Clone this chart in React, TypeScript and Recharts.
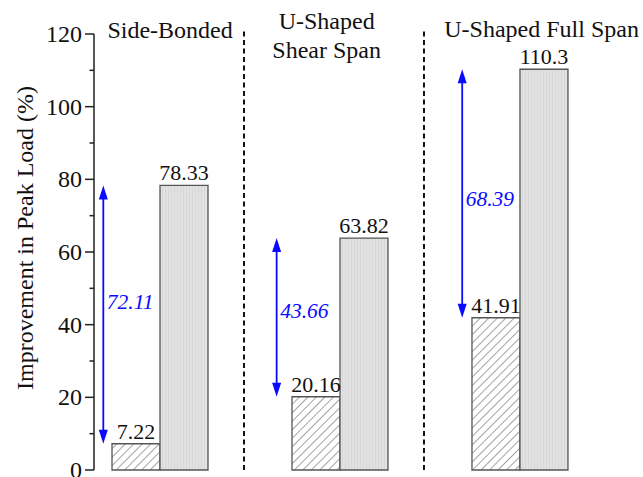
import React from 'react';
import { ComposedChart, Bar, XAxis, YAxis, ReferenceLine, ReferenceDot, LabelList } from 'recharts';

// ---- data ----
const groupLabelLines: string[][] = [['Side-Bonded'], ['U-Shaped', 'Shear Span'], ['U-Shaped Full Span']];
const groupPos = [1, 2, 3];
const unstrengthened = [7.22, 20.16, 41.91];
const strengthened = [78.33, 63.82, 110.3];
const gainLabels = ['72.11', '43.66', '68.39'];
const yTicks = [0, 10, 20, 30, 40, 50, 60, 70, 80, 90, 100, 110, 120];

// ---- layout ----
const W = 643;
const H = 477;
const SERIF = "'Liberation Serif', 'Times New Roman', Times, serif";
const X_DOMAIN: [number, number] = [0.6333, 3.628];
const dividerPos = [1.4667, 2.4667];
const dividerTop = 121.6;
const arrowPos = [0.685, 1.648, 2.679];
const gainNudge = [-13, -7, 5];
const titlePos = [1.056, 1.926, 3.12];
const titleDy = [[4.3], [-4.7, 24.3], [2.7]];
const BLUE = '#0a0aff';
const AXIS = '#222';

const rows = groupPos.map((p, i) => ({ pos: p, plain: unstrengthened[i], frp: strengthened[i] }));

const YTick = (props: any) => {
  const { x, y, payload } = props;
  const major = payload.value % 20 === 0;
  return (
    <g>
      <line x1={x - (major ? 9 : 4.5)} x2={x} y1={y} y2={y} stroke={AXIS} strokeWidth={1.5} />
      {major && (
        <text x={x - 12} y={y} dy="0.33em" textAnchor="end" fontSize={24} fontFamily={SERIF} fill="#111">
          {payload.value}
        </text>
      )}
    </g>
  );
};

const makeArrow = (label: string, nudge: number) => (props: any) => {
  const { x1, y1, y2 } = props;
  const top = Math.min(y1, y2);
  const bot = Math.max(y1, y2);
  const x = x1;
  const head = 14;
  const half = 4.5;
  return (
    <g>
      <line x1={x} y1={top + head - 2} x2={x} y2={bot - head + 2} stroke={BLUE} strokeWidth={1.8} />
      <polygon points={`${x},${top} ${x - half},${top + head} ${x + half},${top + head}`} fill={BLUE} />
      <polygon points={`${x},${bot} ${x - half},${bot - head} ${x + half},${bot - head}`} fill={BLUE} />
      <text
        x={x + 3.5}
        y={(top + bot) / 2 + nudge}
        dy="0.35em"
        fontSize={21.5}
        fontStyle="italic"
        fontFamily={SERIF}
        fill={BLUE}
      >
        {label}
      </text>
    </g>
  );
};

const makeTitle = (lines: string[], dys: number[]) => (props: any) => {
  const { cx, cy } = props;
  return (
    <text textAnchor="middle" fontSize={24} fontFamily={SERIF} fill="#111">
      {lines.map((l, j) => (
        <tspan key={j} x={cx} y={cy + dys[j]}>
          {l}
        </tspan>
      ))}
    </text>
  );
};

const renderAxisTitle = (props: any) => {
  const vb = props.viewBox || { x: 34, y: 34, width: 60, height: 436 };
  const cx = vb.x - 9;
  const cy = vb.y + vb.height / 2 - 14;
  return (
    <text
      x={cx}
      y={cy}
      transform={`rotate(-90, ${cx}, ${cy})`}
      textAnchor="middle"
      dy="0.35em"
      fontSize={24}
      fontFamily={SERIF}
      fill="#111"
    >
      Improvement in Peak Load (%)
    </text>
  );
};

export default function App() {
  return (
    <div style={{ position: 'absolute', left: 0, top: 0, width: W, height: H, background: '#fff' }}>
      <ComposedChart
        width={W}
        height={H}
        data={rows}
        margin={{ top: 34, right: 10, bottom: 7, left: 34 }}
        barGap={0}
        barSize={48}
      >
        <defs>
          <pattern id="hatch" patternUnits="userSpaceOnUse" width="6" height="6" patternTransform="rotate(45)">
            <rect width="6" height="6" fill="#fff" />
            <line x1="0" y1="0" x2="0" y2="6" stroke="#333" strokeWidth="0.9" />
          </pattern>
          <pattern id="stripes" patternUnits="userSpaceOnUse" width="3" height="10">
            <rect width="3" height="10" fill="#e2e2e2" />
            <rect width="1" height="10" fill="#d7d7d7" />
          </pattern>
        </defs>
        <XAxis
          dataKey="pos"
          type="number"
          domain={X_DOMAIN}
          ticks={groupPos}
          allowDataOverflow
          tick={false}
          tickLine={false}
          height={0}
          axisLine={{ stroke: AXIS, strokeWidth: 1.5 }}
        />
        <YAxis
          type="number"
          domain={[0, 120]}
          ticks={yTicks}
          interval={0}
          width={60}
          tickSize={0}
          tickMargin={0}
          tickLine={false}
          tick={<YTick />}
          axisLine={{ stroke: AXIS, strokeWidth: 1.5 }}
          label={renderAxisTitle}
        />
        {dividerPos.map((p, i) => (
          <ReferenceLine
            key={`div${i}`}
            segment={[
              { x: p, y: 0 },
              { x: p, y: dividerTop },
            ]}
            ifOverflow="visible"
            stroke="#111"
            strokeWidth={2}
            strokeDasharray="5 3.5"
          />
        ))}
        <Bar dataKey="plain" fill="url(#hatch)" stroke="#555" strokeWidth={1.3} isAnimationActive={false}>
          <LabelList dataKey="plain" position="top" offset={5} fontSize={22} fontFamily={SERIF} fill="#111" />
        </Bar>
        <Bar dataKey="frp" fill="url(#stripes)" stroke="#555" strokeWidth={1.3} isAnimationActive={false}>
          <LabelList dataKey="frp" position="top" offset={5} fontSize={22} fontFamily={SERIF} fill="#111" />
        </Bar>
        {arrowPos.map((p, i) => (
          <ReferenceLine
            key={`arr${i}`}
            segment={[
              { x: p, y: unstrengthened[i] },
              { x: p, y: strengthened[i] },
            ]}
            ifOverflow="visible"
            shape={makeArrow(gainLabels[i], gainNudge[i])}
          />
        ))}
        {titlePos.map((p, i) => (
          <ReferenceDot
            key={`ttl${i}`}
            x={p}
            y={120}
            r={0}
            ifOverflow="visible"
            shape={makeTitle(groupLabelLines[i], titleDy[i])}
          />
        ))}
      </ComposedChart>
    </div>
  );
}
